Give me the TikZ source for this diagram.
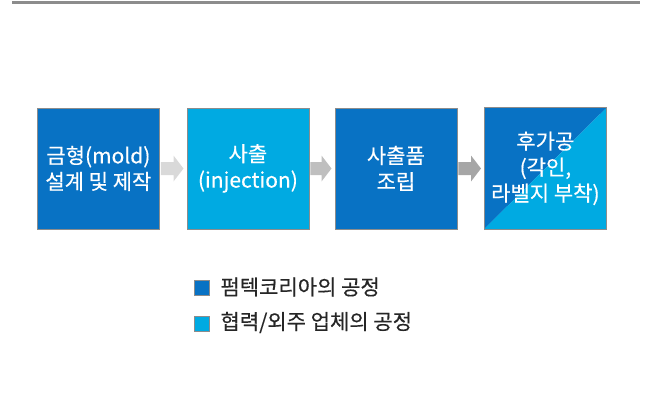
\documentclass[tikz,border=0pt]{standalone}
\usepackage{fontspec}
\usetikzlibrary{calc}
\setmainfont{Noto Sans CJK KR}[FakeBold=0.35]
\definecolor{dblue}{HTML}{0872C4}
\definecolor{lblue}{HTML}{00AAE2}
\definecolor{bord}{HTML}{8C8C8C}
\definecolor{arr1}{HTML}{D9D9D9}
\definecolor{arr2}{HTML}{BFBFBF}
\definecolor{arr3}{HTML}{A6A6A6}
\begin{document}
\begin{tikzpicture}[x=1pt,y=-1pt,
  procbox/.style={draw=bord,line width=0.8pt,minimum width=122pt,minimum height=121pt,inner sep=0pt,anchor=north west},
  boxtext/.style={text=white,font=\fontsize{21}{26}\selectfont,align=center},
  legsq/.style={draw=bord,line width=0.8pt,minimum size=15pt,inner sep=0pt},
  legtext/.style={font=\fontsize{21}{24}\selectfont,anchor=west,text=black!85}]
\useasboundingbox (0,0) rectangle (649,405);
\draw[bord,line width=2.5pt] (12,2.5) -- (640,2.5);
% boxes
\node[procbox,fill=dblue] (b1) at (37,107.5) {};
\node[procbox,fill=lblue] (b2) at (186.5,107.5) {};
\node[procbox,fill=dblue] (b3) at (334.5,107.5) {};
\node[procbox] (b4) at (484,107.5) {};
\fill[dblue] (b4.north west) -- (b4.north east) -- (b4.south west) -- cycle;
\fill[lblue] (b4.north east) -- (b4.south east) -- (b4.south west) -- cycle;
\draw[bord,line width=0.8pt] (b4.north west) rectangle (b4.south east);
\node[boxtext] (t1) at (b1.center) {금형(mold)\\설계 및 제작};
\node[boxtext] (t2) at (b2.center) {사출\\(injection)};
\node[boxtext] (t3) at (b3.center) {사출품\\조립};
\node[boxtext] (t4) at (b4.center) {후가공\\(각인,\\라벨지 부착)};
% block arrows
\newcommand{\blockarrow}[3]{%
  \fill[#3] let \p1=(#1.east), \p2=(#2.west) in
   ($(\x1+1pt,-162pt)$) -- ($(\x2-13pt,-162pt)$) -- ($(\x2-13pt,-155.5pt)$) -- ($(\x2-3pt,-168.5pt)$)
   -- ($(\x2-13pt,-181.5pt)$) -- ($(\x2-13pt,-175pt)$) -- ($(\x1+1pt,-175pt)$) -- cycle;}
\blockarrow{b1}{b2}{arr1}
\blockarrow{b2}{b3}{arr2}
\blockarrow{b3}{b4}{arr3}
% legend
\node[legsq,fill=dblue] (l1) at (201.5,288) {};
\node[legsq,fill=lblue] (l2) at (201.5,323.5) {};
\node[legtext] (lt1) at (217,287) {펌텍코리아의 공정};
\node[legtext] (lt2) at (217,322.5) {협력/외주 업체의 공정};
\end{tikzpicture}
\end{document}
